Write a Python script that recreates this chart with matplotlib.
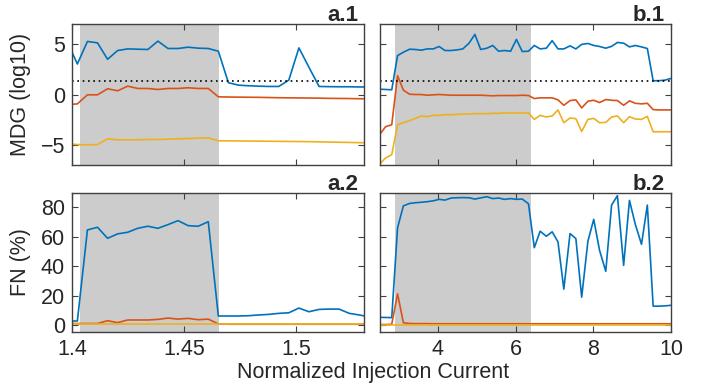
import matplotlib
matplotlib.use("Agg")
import matplotlib.pyplot as plt

plt.rcParams['font.family'] = ['Liberation Sans', 'DejaVu Sans']

# Normalized injection current, left column (a) and right column (b)
x_a = [1.4, 1.4024, 1.4069, 1.4114, 1.4159, 1.4204, 1.4249, 1.4294, 1.4339, 1.4384,
       1.4429, 1.4474, 1.4519, 1.4564, 1.4609, 1.4654, 1.4699, 1.4744, 1.4789, 1.4834,
       1.4879, 1.4924, 1.4969, 1.5014, 1.5059, 1.5104, 1.5149, 1.5194, 1.5239, 1.5284,
       1.5329]
x_b = [2.5, 2.65, 2.81, 2.96, 3.11, 3.27, 3.42, 3.57, 3.72, 3.88,
       4.03, 4.18, 4.34, 4.49, 4.64, 4.8, 4.95, 5.1, 5.26, 5.41,
       5.56, 5.71, 5.87, 6.02, 6.17, 6.33, 6.48, 6.63, 6.79, 6.94,
       7.09, 7.24, 7.4, 7.55, 7.7, 7.86, 8.01, 8.16, 8.32, 8.47,
       8.62, 8.78, 8.93, 9.08, 9.24, 9.39, 9.54, 9.69, 9.85, 10.0]

# shaded regions
shade_a = [1.4037, 1.4659]
shade_b = [2.9, 6.4]
threshold = 1.3  # dotted line in MDG panels

# a.1 MDG (log10)
mdg_a_blue = [4.2, 3.03, 5.27, 5.13, 3.5, 4.37, 4.53, 4.5, 4.47, 5.3,
              4.57, 4.57, 4.7, 4.6, 4.57, 4.3, 1.17, 0.93, 0.87, 0.83,
              0.8, 0.8, 1.43, 4.63, 2.7, 0.8, 0.78, 0.77, 0.77, 0.75, 0.75]
mdg_a_orange = [-0.97, -0.93, -0.03, -0.03, 0.57, 0.37, 0.83, 0.6, 0.6, 0.5,
                0.6, 0.6, 0.67, 0.6, 0.6, -0.23, -0.25, -0.26, -0.27, -0.28,
                -0.3, -0.32, -0.33, -0.34, -0.35, -0.36, -0.38, -0.39, -0.4, -0.42, -0.43]
mdg_a_yellow = [-4.93, -4.97, -5.0, -4.97, -4.4, -4.5, -4.5, -4.5, -4.47, -4.47,
                -4.43, -4.4, -4.37, -4.33, -4.3, -4.6, -4.6, -4.61, -4.62, -4.63,
                -4.64, -4.65, -4.66, -4.67, -4.68, -4.7, -4.72, -4.74, -4.76, -4.78, -4.8]

# a.2 FN (%)
fn_a_blue = [2.7, 2.7, 64.7, 66.5, 59.0, 62.0, 63.1, 65.8, 67.2, 65.8,
             68.3, 71.0, 67.6, 67.2, 70.3, 6.1, 6.1, 6.1, 6.3, 6.8,
             7.2, 7.9, 8.3, 11.5, 9.0, 10.6, 10.8, 10.8, 7.9, 6.8, 5.5]
fn_a_orange = [1.0, 1.0, 1.0, 1.0, 2.9, 1.6, 3.4, 3.4, 3.4, 3.8,
               4.7, 4.0, 4.5, 3.6, 4.0, 0.7, 0.5, 0.5, 0.5, 0.5,
               0.5, 0.5, 0.5, 0.5, 0.5, 0.5, 0.5, 0.5, 0.5, 0.5, 0.5]
fn_a_yellow = [0.4, 0.4, 0.4, 0.4, 0.4, 0.4, 0.4, 0.4, 0.4, 0.4,
               0.4, 0.4, 0.4, 0.4, 0.4, 0.4, 0.4, 0.4, 0.4, 0.4,
               0.4, 0.4, 0.4, 0.4, 0.4, 0.4, 0.4, 0.4, 0.4, 0.4, 0.4]

# b.1 MDG (log10)
mdg_b_blue = [0.53, 0.5, 0.47, 3.87, 4.2, 4.5, 4.47, 4.4, 4.53, 4.53,
              4.77, 4.37, 4.37, 4.43, 4.53, 5.1, 5.97, 4.47, 4.6, 4.87,
              4.3, 4.37, 4.3, 5.47, 4.27, 4.3, 4.87, 4.53, 4.6, 5.35,
              4.53, 4.53, 4.83, 4.53, 4.98, 5.07, 4.87, 4.77, 4.6, 4.78,
              5.17, 5.1, 4.73, 4.87, 4.73, 4.57, 1.37, 1.37, 1.43, 1.6]
mdg_b_orange = [-3.97, -3.2, -3.0, 1.87, 0.43, 0.03, 0.0, 0.0, -0.07, -0.03,
                0.0, -0.03, -0.07, -0.07, -0.07, -0.07, -0.07, -0.07, -0.1, -0.13,
                -0.1, -0.1, -0.1, -0.1, -0.07, -0.1, -0.4, -0.33, -0.33, -0.33,
                -0.53, -1.07, -0.6, -0.53, -1.33, -0.67, -0.57, -0.8, -0.5, -0.57,
                -0.6, -1.07, -0.63, -0.87, -0.93, -0.87, -1.5, -1.53, -1.53, -1.53]
mdg_b_yellow = [-6.9, -6.3, -5.97, -3.0, -2.8, -2.6, -2.37, -2.13, -2.2, -2.07,
                -2.07, -2.0, -2.0, -1.97, -1.93, -1.93, -1.9, -1.9, -1.9, -1.87,
                -1.87, -1.83, -1.83, -1.83, -1.83, -1.83, -2.47, -2.07, -2.23, -2.13,
                -1.53, -2.8, -2.33, -2.4, -3.67, -2.47, -2.37, -2.8, -2.77, -2.23,
                -2.13, -2.8, -2.2, -2.43, -2.47, -2.17, -3.7, -3.7, -3.7, -3.7]

# b.2 FN (%)
fn_b_blue = [5.2, 5.1, 5.0, 66.2, 81.1, 82.7, 83.2, 83.5, 83.9, 84.5,
             85.5, 85.0, 86.4, 86.6, 86.7, 86.6, 85.7, 86.5, 87.3, 86.0,
             86.4, 85.5, 86.0, 85.5, 85.7, 82.5, 52.6, 63.8, 60.4, 63.4,
             56.5, 24.4, 62.2, 58.8, 18.9, 57.0, 71.9, 50.8, 36.5, 81.6,
             88.0, 40.6, 84.8, 68.5, 54.9, 81.6, 12.8, 12.8, 13.0, 13.4]
fn_b_orange = [0.3, 0.3, 0.5, 21.2, 1.5, 1.0, 0.9, 0.9, 0.9, 0.8,
               0.8, 0.8, 0.8, 0.8, 0.8, 0.8, 0.8, 0.8, 0.8, 0.8,
               0.8, 0.8, 0.8, 0.8, 0.8, 0.8, 0.8, 0.8, 0.8, 0.8,
               0.8, 0.8, 0.8, 0.8, 0.8, 0.8, 0.8, 0.8, 0.8, 0.8,
               0.8, 0.8, 0.8, 0.8, 0.8, 0.8, 0.8, 0.8, 0.8, 0.8]
fn_b_yellow = [0.2, 0.2, 0.2, 0.2, 0.2, 0.2, 0.2, 0.2, 0.2, 0.2,
               0.2, 0.2, 0.2, 0.2, 0.2, 0.2, 0.2, 0.2, 0.2, 0.2,
               0.2, 0.2, 0.2, 0.2, 0.2, 0.2, 0.2, 0.2, 0.2, 0.2,
               0.2, 0.2, 0.2, 0.2, 0.2, 0.2, 0.2, 0.2, 0.2, 0.2,
               0.2, 0.2, 0.2, 0.2, 0.2, 0.2, 0.2, 0.2, 0.2, 0.2]

blue = '#0072BD'
orange = '#D95319'
yellow = '#EDB120'
txt = '#262626'
fs = 15.5

fig = plt.figure(figsize=(7.1, 3.9), dpi=100)
ax_a1 = fig.add_axes([0.1014, 0.5769, 0.4113, 0.3615])
ax_b1 = fig.add_axes([0.5348, 0.5769, 0.4103, 0.3615])
ax_a2 = fig.add_axes([0.1014, 0.1479, 0.4113, 0.3579])
ax_b2 = fig.add_axes([0.5348, 0.1479, 0.4103, 0.3579])

panels = [
    (ax_a1, x_a, shade_a, mdg_a_blue, mdg_a_orange, mdg_a_yellow, 'a.1'),
    (ax_b1, x_b, shade_b, mdg_b_blue, mdg_b_orange, mdg_b_yellow, 'b.1'),
    (ax_a2, x_a, shade_a, fn_a_blue, fn_a_orange, fn_a_yellow, 'a.2'),
    (ax_b2, x_b, shade_b, fn_b_blue, fn_b_orange, fn_b_yellow, 'b.2'),
]

for ax, x, shade, yb, yo, yy, name in panels:
    ax.axvspan(shade[0], shade[1], color='#CCCCCC', lw=0, zorder=0)
    ax.plot(x, yb, color=blue, lw=1.2)
    ax.plot(x, yo, color=orange, lw=1.2)
    ax.plot(x, yy, color=yellow, lw=1.2)
    ax.text(0.98, 1.022, name, transform=ax.transAxes, ha='right', va='baseline',
            fontsize=fs + 0.5, fontweight='bold', color=txt)
    for s in ax.spines.values():
        s.set_color('#404040')
        s.set_linewidth(1.0)
    ax.tick_params(direction='in', top=True, right=True, length=4, width=0.8,
                   color='#404040', labelcolor=txt, labelsize=fs, pad=5)

# MDG panels
for ax in [ax_a1, ax_b1]:
    ax.axhline(threshold, color='black', lw=1.2, ls=(0, (1, 2.2)))
    ax.set_ylim(-7, 7)
    ax.set_yticks([-5, 0, 5])
    ax.set_xticklabels([])

# FN panels
for ax in [ax_a2, ax_b2]:
    ax.set_ylim(-5, 90)
    ax.set_yticks([0, 20, 40, 60, 80])

for ax in [ax_a1, ax_a2]:
    ax.set_xlim(1.4, 1.5305)
    ax.set_xticks([1.4, 1.45, 1.5])
for ax in [ax_b1, ax_b2]:
    ax.set_xlim(2.5, 10)
    ax.set_xticks([4, 6, 8, 10])
    ax.set_yticklabels([])

ax_a2.set_xticklabels(['1.4', '1.45', '1.5'])
ax_b2.set_xticklabels(['4', '6', '8', '10'])

ax_a1.set_ylabel('MDG (log10)', fontsize=fs, color=txt)
ax_a2.set_ylabel('FN (%)', fontsize=fs, color=txt)
ax_a1.yaxis.set_label_coords(-0.14, 0.5)
ax_a2.yaxis.set_label_coords(-0.14, 0.5)

fig.text(0.525, 0.03, 'Normalized Injection Current', ha='center', va='baseline',
         fontsize=fs, color=txt)

fig.savefig('out.png', dpi=100)
